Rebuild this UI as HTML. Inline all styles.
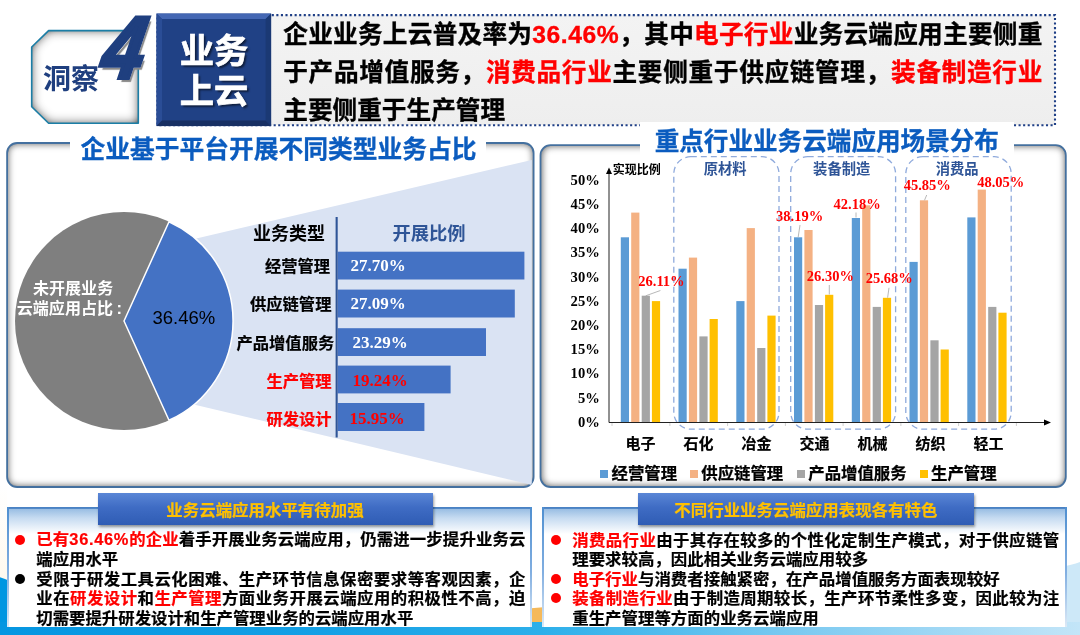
<!DOCTYPE html>
<html lang="zh-CN"><head><meta charset="utf-8"><title>洞察4 业务上云</title>
<style>
html,body{margin:0;padding:0;}
body{width:1080px;height:635px;position:relative;overflow:hidden;background:#fff;font-family:"Liberation Sans","Noto Sans CJK SC",sans-serif;font-weight:bold;color:#000;}
.abs{position:absolute;white-space:nowrap;}
.j{position:absolute;white-space:nowrap;text-align:justify;text-align-last:justify;}
.r{color:#ff0000;}
.panel{position:absolute;border-radius:9.5px;box-shadow:inset 0 0 7px 1px rgba(0,0,0,.62);box-sizing:border-box;}
.ser{font-family:"Liberation Serif","Noto Serif CJK SC",serif;font-weight:bold;}
.hl{-webkit-text-stroke:.35px;font-size:24.65px;line-height:38px;height:38px;left:283.3px;width:759px;}
.bl{-webkit-text-stroke:.2px;font-size:16.4px;line-height:20px;height:20px;}
.br{font-size:16.45px;}
.yl{font-family:"Liberation Serif","Noto Serif CJK SC",serif;font-size:14.6px;line-height:16px;width:40px;text-align:right;left:559.8px;}
.cl{font-size:15px;line-height:18px;width:60px;text-align:center;-webkit-text-stroke:.2px;}
.dl{font-family:"Liberation Serif","Noto Serif CJK SC",serif;font-size:14.5px;line-height:16px;color:#ff0000;}
.tl{font-size:16.3px;line-height:20px;-webkit-text-stroke:.2px;}
.tv{font-family:"Liberation Serif","Noto Serif CJK SC",serif;font-size:17px;line-height:18px;color:#fff;}
.tv.r2{color:#ff0000;}
.lg{font-size:16.4px;line-height:20px;-webkit-text-stroke:.25px;}
</style></head><body>

<!-- background decorations -->
<svg class="abs" style="left:0;top:0" width="1080" height="635" viewBox="0 0 1080 635">
<defs>
<linearGradient id="bgl" x1="0" y1="0" x2="1" y2="0"><stop offset="0" stop-color="#0596e1"/><stop offset="0.3" stop-color="#15a0e5"/><stop offset="0.5" stop-color="#2cafea"/><stop offset="0.75" stop-color="#7fcbf1"/><stop offset="1" stop-color="#c3e5f8"/></linearGradient>
<linearGradient id="cream" x1="0" y1="0" x2="0" y2="1"><stop offset="0" stop-color="#ffffff"/><stop offset="1" stop-color="#fef9ee"/></linearGradient>
</defs>
<rect x="0" y="485" width="7" height="100" fill="url(#cream)"/>
<path d="M0,577.3 Q20,583 40,605 L40,635 L0,635 Z" fill="#0096e1"/>
<path d="M1060,567 Q1072,565 1080,562 L1080,635 L1060,635 Z" fill="#cde8f8"/>
<path d="M531,608.2 L543,607.2 L543,623 L531,623 Z" fill="#f5b95a"/>
<rect x="0" y="622" width="1080" height="13" fill="url(#bgl)"/>
</svg>

<!-- header -->
<div class="abs" style="left:271px;top:15px;width:784px;height:110px;background:linear-gradient(#f3f3f3,#eeeeee);"></div>
<svg class="abs" style="left:0;top:0" width="1080" height="135" viewBox="0 0 1080 135"><rect x="157.5" y="15.1" width="897.5" height="110.1" fill="none" stroke="#1f3f86" stroke-width="2.1" stroke-dasharray="2.1 2.47"/></svg>
<div class="j hl" style="top:16px;">企业业务上云普及率为<span class="r" style="letter-spacing:.55px">36.46%</span>，其中<span class="r">电子行业</span>业务云端应用主要侧重</div>
<div class="j hl" style="top:54.1px;">于产品增值服务，<span class="r">消费品行业</span>主要侧重于供应链管理，<span class="r">装备制造行业</span></div>
<div class="abs hl" style="top:92px;">主要侧重于生产管理</div>

<svg class="abs" style="left:0;top:0" width="300" height="140" viewBox="0 0 300 140">
<defs>
<filter id="insh" x="-10%" y="-10%" width="120%" height="120%">
<feGaussianBlur in="SourceAlpha" stdDeviation="5.5" result="b"/>
<feComposite in="SourceAlpha" in2="b" operator="out" result="o"/>
<feFlood flood-color="#000" flood-opacity="1"/><feComposite in2="o" operator="in"/>
<feComposite in2="SourceAlpha" operator="in"/><feComponentTransfer result="sh"><feFuncA type="linear" slope="1.25"/></feComponentTransfer>
<feMerge><feMergeNode in="SourceGraphic"/><feMergeNode in="sh"/></feMerge>
</filter>
</defs>
<path d="M48.6,30.6 L138.3,30.6 L138.3,123.3 L48.6,123.3 L31.7,106.7 L31.7,47 Z" fill="#fff" filter="url(#insh)"/>
<path d="M48.6,30.6 L138.3,30.6 L138.3,123.3 L48.6,123.3 L31.7,106.7 L31.7,47 Z" fill="none" stroke="#1b7ea6" stroke-width="1.6" stroke-linejoin="round"/>
<!-- blue bevel box -->
<rect x="156.5" y="13.6" width="114.6" height="112.5" fill="#204185"/>
<path d="M156.5,13.6 L271.1,13.6 L265.6,19.1 L162,19.1 Z" fill="#4467b3"/>
<path d="M156.5,13.6 L162,19.1 L162,120.6 L156.5,126.1 Z" fill="#2a4d96"/>
<path d="M271.1,13.6 L271.1,126.1 L265.6,120.6 L265.6,19.1 Z" fill="#1b3974"/>
<path d="M156.5,126.1 L162,120.6 L265.6,120.6 L271.1,126.1 Z" fill="#172f63"/>
</svg>
<div class="abs" style="left:43px;top:60px;font-size:28px;line-height:40px;color:#1f3f7f;">洞察</div>
<div class="abs" style="left:95px;top:-2.5px;font-size:88px;line-height:100px;color:#1f3f7f;font-style:italic;font-family:'Liberation Sans',sans-serif;-webkit-text-stroke:4px #1f3f7f;text-shadow:1.5px 1.5px 0 #fff,3.5px 3.5px 1px #888;transform-origin:50% 80%;transform:skewX(-10deg) scaleX(0.84);">4</div>
<div class="abs" style="left:157px;top:30.5px;width:114px;text-align:center;font-size:34.3px;line-height:40px;color:#fff;-webkit-text-stroke:.7px #fff;text-shadow:2px 2px 2px rgba(0,0,0,.55);">业务<br>上云</div>

<!-- panels -->
<div class="abs" style="left:68.6px;top:132px;width:420px;text-align:center;font-size:24.75px;line-height:36px;color:#0b5cbf;-webkit-text-stroke:.3px;z-index:5;">企业基于平台开展不同类型业务占比</div>
<div class="abs" style="left:639.8px;top:124px;width:374px;text-align:center;font-size:24.6px;line-height:36px;color:#0b5cbf;-webkit-text-stroke:.3px;z-index:5;">重点行业业务云端应用场景分布</div>

<div class="panel" style="left:7px;top:143px;width:526.6px;height:344px;"></div>
<div class="panel" style="left:540.5px;top:145.2px;width:525.3px;height:341.8px;"></div>
<svg class="abs" style="left:0;top:135px" width="1080" height="360" viewBox="0 135 1080 360"><g fill="none" stroke="#44709f" stroke-width="1.8"><rect x="7.1" y="143" width="526.5" height="344" rx="10" ry="10"/><rect x="540.5" y="145.2" width="525.3" height="341.8" rx="10" ry="10"/></g></svg>
<!-- left chart -->
<svg class="abs" style="left:0;top:0" width="540" height="500" viewBox="0 0 540 500">
<defs><clipPath id="lp"><rect x="7" y="143" width="527" height="344" rx="9" ry="9"/></clipPath></defs>
<path d="M160,247 L531.8,160 L531.8,485 L160,396.5 Z" fill="#dae3f3" clip-path="url(#lp)"/>

<circle cx="124" cy="321" r="109" fill="#7f7f7f"/>
<path d="M124,321 L169.0,221.7 A109,109 0 0 1 169.0,420.3 Z" fill="#4472c4" stroke="#fff" stroke-width="1.5" stroke-linejoin="round"/>

<rect x="337.7" y="251.7" width="186.7" height="27.8" fill="#4472c4"/>
<rect x="337.7" y="289.6" width="177.1" height="27.9" fill="#4472c4"/>
<rect x="337.7" y="328.2" width="148.3" height="27.8" fill="#4472c4"/>
<rect x="337.7" y="365.6" width="112.9" height="27.8" fill="#4472c4"/>
<rect x="337.7" y="403" width="86.7" height="28" fill="#4472c4"/>
<rect x="335.6" y="217" width="2.1" height="220.5" fill="#2f5597"/>
</svg>
<div class="abs" style="left:70.4px;top:130px;width:415.6px;height:36px;background:#fff;"></div>
<div class="abs" style="left:640px;top:122px;width:374px;height:36px;background:#fff;"></div>
<div class="abs" style="left:33px;top:277.5px;font-size:16.05px;line-height:20.3px;color:#fff;">未开展业务</div>
<div class="abs" style="left:16.8px;top:297.8px;font-size:16.05px;line-height:20.3px;color:#fff;">云端应用占比<span style="margin-left:3.5px;font-size:16.5px;line-height:10px;">:</span></div>
<div class="abs" style="left:152.5px;top:307.5px;font-size:18.5px;line-height:20px;font-weight:normal;font-family:'Liberation Sans',sans-serif;">36.46%</div>
<div class="abs" style="left:253px;top:224px;font-size:18px;line-height:20px;">业务类型</div>
<div class="abs" style="left:392.5px;top:224px;font-size:18.3px;line-height:20px;color:#2f5597;">开展比例</div>
<div class="abs tl" style="left:265px;top:256px;">经营管理</div>
<div class="abs tl" style="left:250px;top:294px;">供应链管理</div>
<div class="abs tl" style="left:236.5px;top:332.5px;">产品增值服务</div>
<div class="abs tl r" style="left:266.5px;top:371px;">生产管理</div>
<div class="abs tl r" style="left:266.5px;top:408.5px;">研发设计</div>
<div class="abs tv" style="left:350.5px;top:257px;">27.70%</div>
<div class="abs tv" style="left:350.5px;top:295px;">27.09%</div>
<div class="abs tv" style="left:352.5px;top:333.5px;">23.29%</div>
<div class="abs tv r2" style="left:352.5px;top:372px;">19.24%</div>
<div class="abs tv r2" style="left:349.5px;top:409.5px;">15.95%</div>

<!-- right chart -->
<svg class="abs" style="left:540px;top:140px" width="540" height="350" viewBox="540 140 540 350">
<g fill="none" stroke="#8faadc" stroke-width="1.3" stroke-dasharray="6 4">
<rect x="673.8" y="156.7" width="105.2" height="272.5" rx="17" ry="17"/>
<rect x="790.7" y="156.7" width="104.9" height="272.5" rx="17" ry="17"/>
<rect x="905.8" y="156.7" width="105.4" height="272.5" rx="17" ry="17"/>
</g>
<rect x="620.8" y="237.3" width="8.2" height="184.7" fill="#5b9bd5"/>
<rect x="631.2" y="212.6" width="8.2" height="209.4" fill="#f4b183"/>
<rect x="641.7" y="295.7" width="8.2" height="126.3" fill="#a5a5a5"/>
<rect x="651.9" y="301.1" width="8.2" height="120.9" fill="#ffc000"/>
<rect x="678.5" y="268.7" width="8.2" height="153.3" fill="#5b9bd5"/>
<rect x="688.9" y="257.6" width="8.2" height="164.4" fill="#f4b183"/>
<rect x="699.4" y="336.4" width="8.2" height="85.6" fill="#a5a5a5"/>
<rect x="709.6" y="319.0" width="8.2" height="103.0" fill="#ffc000"/>
<rect x="736.3" y="301.1" width="8.2" height="120.9" fill="#5b9bd5"/>
<rect x="746.7" y="228.1" width="8.2" height="193.9" fill="#f4b183"/>
<rect x="757.2" y="348.0" width="8.2" height="74.0" fill="#a5a5a5"/>
<rect x="767.4" y="315.6" width="8.2" height="106.4" fill="#ffc000"/>
<rect x="794.0" y="237.3" width="8.2" height="184.7" fill="#5b9bd5"/>
<rect x="804.4" y="230.0" width="8.2" height="192.0" fill="#f4b183"/>
<rect x="814.9" y="305.0" width="8.2" height="117.0" fill="#a5a5a5"/>
<rect x="825.1" y="294.8" width="8.2" height="127.2" fill="#ffc000"/>
<rect x="851.8" y="218.0" width="8.2" height="204.0" fill="#5b9bd5"/>
<rect x="862.2" y="205.3" width="8.2" height="216.7" fill="#f4b183"/>
<rect x="872.7" y="306.9" width="8.2" height="115.1" fill="#a5a5a5"/>
<rect x="882.9" y="297.8" width="8.2" height="124.2" fill="#ffc000"/>
<rect x="909.5" y="261.9" width="8.2" height="160.1" fill="#5b9bd5"/>
<rect x="919.9" y="200.3" width="8.2" height="221.7" fill="#f4b183"/>
<rect x="930.4" y="340.3" width="8.2" height="81.7" fill="#a5a5a5"/>
<rect x="940.6" y="349.5" width="8.2" height="72.5" fill="#ffc000"/>
<rect x="967.3" y="217.4" width="8.2" height="204.6" fill="#5b9bd5"/>
<rect x="977.7" y="189.6" width="8.2" height="232.4" fill="#f4b183"/>
<rect x="988.2" y="306.9" width="8.2" height="115.1" fill="#a5a5a5"/>
<rect x="998.4" y="312.7" width="8.2" height="109.3" fill="#ffc000"/>
<g stroke="#d0d0d0" stroke-width="1">
<path d="M612,422 v4 M669.9,422 v4 M727.6,422 v4 M785.4,422 v4 M843.1,422 v4 M900.9,422 v4 M958.6,422 v4 M1016.4,422 v4"/>
</g>
<path d="M609,173 V422.5 H1044" fill="none" stroke="#222" stroke-width="1"/>
<path d="M609,167.5 l-3,6.5 h6 Z" fill="#000"/>
<path d="M1051,422.5 l-7,-3 v6 Z" fill="#000"/>
<g stroke="#a6a6a6" stroke-width=".8" fill="none">
<path d="M645.7,295.8 L660.4,290.5"/>
<path d="M798.2,237 L800,225"/>
<path d="M856,217.5 L856,212.5"/>
<path d="M829.3,294.5 L829.3,285"/>
<path d="M887.6,297.7 L889,287.8"/>
<path d="M924.5,200.3 L926.7,195"/>
</g>
</svg>
<div class="abs" style="left:612.8px;top:162px;font-size:12px;line-height:16px;">实现比例</div>
<div class="abs" style="left:675.2px;top:159.3px;width:100px;text-align:center;font-size:14.3px;line-height:20px;color:#2f5597;">原材料</div>
<div class="abs" style="left:791.7px;top:159.3px;width:100px;text-align:center;font-size:14.3px;line-height:20px;color:#2f5597;">装备制造</div>
<div class="abs" style="left:907.2px;top:159.3px;width:100px;text-align:center;font-size:14.3px;line-height:20px;color:#2f5597;">消费品</div>
<div class="abs yl" style="top:171.9px;">50%</div>
<div class="abs yl" style="top:196.1px;">45%</div>
<div class="abs yl" style="top:220.3px;">40%</div>
<div class="abs yl" style="top:244.4px;">35%</div>
<div class="abs yl" style="top:268.6px;">30%</div>
<div class="abs yl" style="top:292.8px;">25%</div>
<div class="abs yl" style="top:317.0px;">20%</div>
<div class="abs yl" style="top:341.2px;">15%</div>
<div class="abs yl" style="top:365.3px;">10%</div>
<div class="abs yl" style="top:389.5px;">5%</div>
<div class="abs yl" style="top:413.7px;">0%</div>
<div class="abs cl" style="left:610.6px;top:434.6px;">电子</div>
<div class="abs cl" style="left:668.6px;top:434.6px;">石化</div>
<div class="abs cl" style="left:726.6px;top:434.6px;">冶金</div>
<div class="abs cl" style="left:784.6px;top:434.6px;">交通</div>
<div class="abs cl" style="left:842.6px;top:434.6px;">机械</div>
<div class="abs cl" style="left:900.6px;top:434.6px;">纺织</div>
<div class="abs cl" style="left:958.6px;top:434.6px;">轻工</div>
<div class="abs dl" style="left:638.3px;top:273.1px;">26.11%</div>
<div class="abs dl" style="left:776px;top:207.6px;">38.19%</div>
<div class="abs dl" style="left:833.5px;top:195.5px;">42.18%</div>
<div class="abs dl" style="left:806.8px;top:267.8px;">26.30%</div>
<div class="abs dl" style="left:865.7px;top:269.9px;">25.68%</div>
<div class="abs dl" style="left:903.7px;top:177.3px;">45.85%</div>
<div class="abs dl" style="left:977.2px;top:174.4px;">48.05%</div>
<div class="abs" style="left:600.2px;top:470px;width:8px;height:8px;background:#5b9bd5;"></div><div class="abs lg" style="left:611.6px;top:463px;">经营管理</div>
<div class="abs" style="left:689.9px;top:470px;width:8px;height:8px;background:#f4b183;"></div><div class="abs lg" style="left:701.3px;top:463px;">供应链管理</div>
<div class="abs" style="left:796.9px;top:470px;width:8px;height:8px;background:#a5a5a5;"></div><div class="abs lg" style="left:808.3px;top:463px;">产品增值服务</div>
<div class="abs" style="left:919.7px;top:470px;width:8px;height:8px;background:#ffc000;"></div><div class="abs lg" style="left:931.1px;top:463px;">生产管理</div>

<!-- bottom boxes -->
<div class="abs" style="left:6.8px;top:506.8px;width:525px;height:120.7px;background:linear-gradient(#4a82c4 0,#4a82c4 1.4px,#9bbfe4 2.4px,#c6dbf1 11px,#fff 27px);"></div><div class="abs" style="left:6.8px;top:506.8px;width:1.8px;height:120.7px;background:linear-gradient(#4f8fd0,#82afe1 55%,rgba(141,184,226,.3));"></div><div class="abs" style="left:530px;top:506.8px;width:1.8px;height:120.7px;background:linear-gradient(#4f8fd0,#82afe1 55%,rgba(141,184,226,.3));"></div>
<div class="abs" style="left:542.2px;top:506.8px;width:525px;height:120.7px;background:linear-gradient(#4a82c4 0,#4a82c4 1.4px,#9bbfe4 2.4px,#c6dbf1 11px,#fff 27px);"></div><div class="abs" style="left:542.2px;top:506.8px;width:1.8px;height:120.7px;background:linear-gradient(#4f8fd0,#82afe1 55%,rgba(141,184,226,.3));"></div><div class="abs" style="left:1065.4px;top:506.8px;width:1.8px;height:120.7px;background:linear-gradient(#4f8fd0,#82afe1 55%,rgba(141,184,226,.3));"></div>
<div class="abs" style="left:97.5px;top:493.4px;width:335px;height:32px;background:linear-gradient(#5a86d6,#3f6cc4 45%,#2f5cb4);box-shadow:1px 1.5px 2.5px rgba(0,0,0,.38);text-align:center;font-size:16.45px;line-height:34.6px;-webkit-text-stroke:.2px;color:#ffc000;">业务云端应用水平有待加强</div>
<div class="abs" style="left:638px;top:493.4px;width:335.7px;height:32px;background:linear-gradient(#5a86d6,#3f6cc4 45%,#2f5cb4);box-shadow:1px 1.5px 2.5px rgba(0,0,0,.38);text-align:center;font-size:16.45px;line-height:34.6px;-webkit-text-stroke:.2px;color:#ffc000;">不同行业业务云端应用表现各有特色</div>

<div class="abs" style="left:14.9px;top:534.6px;width:10px;height:10px;border-radius:50%;background:#ff0000;"></div>
<div class="j bl" style="left:36.3px;top:529.4px;width:489px;"><span class="r">已有<span style="letter-spacing:.7px">36.46%</span>的企业</span>着手开展业务云端应用，仍需进一步提升业务云</div>
<div class="abs bl" style="left:36.3px;top:549px;">端应用水平</div>
<div class="abs" style="left:14.8px;top:574.3px;width:10px;height:10px;border-radius:50%;background:#000;"></div>
<div class="j bl" style="left:36.3px;top:568.6px;width:489px;">受限于研发工具云化困难、生产环节信息保密要求等客观因素，企</div>
<div class="j bl" style="left:36.3px;top:588.1px;width:489px;">业在<span class="r">研发设计</span>和<span class="r">生产管理</span>方面业务开展云端应用的积极性不高，迫</div>
<div class="abs bl" style="left:36.3px;top:607.6px;">切需要提升研发设计和生产管理业务的云端应用水平</div>

<div class="abs" style="left:551.3px;top:534.9px;width:10px;height:10px;border-radius:50%;background:#ff0000;"></div>
<div class="j bl br" style="left:572.2px;top:529.6px;width:487px;"><span class="r">消费品行业</span>由于其存在较多的个性化定制生产模式，对于供应链管</div>
<div class="abs bl br" style="left:572.2px;top:549.3px;">理要求较高，因此相关业务云端应用较多</div>
<div class="abs" style="left:551.3px;top:574.2px;width:10px;height:10px;border-radius:50%;background:#ff0000;"></div>
<div class="abs bl br" style="left:572.2px;top:568.6px;"><span class="r">电子行业</span>与消费者接触紧密，在产品增值服务方面表现较好</div>
<div class="abs" style="left:551.3px;top:593.4px;width:10px;height:10px;border-radius:50%;background:#ff0000;"></div>
<div class="j bl br" style="left:572.2px;top:588.3px;width:487px;"><span class="r">装备制造行业</span>由于制造周期较长，生产环节柔性多变，因此较为注</div>
<div class="abs bl br" style="left:572.2px;top:607.9px;">重生产管理等方面的业务云端应用</div>
</body></html>
